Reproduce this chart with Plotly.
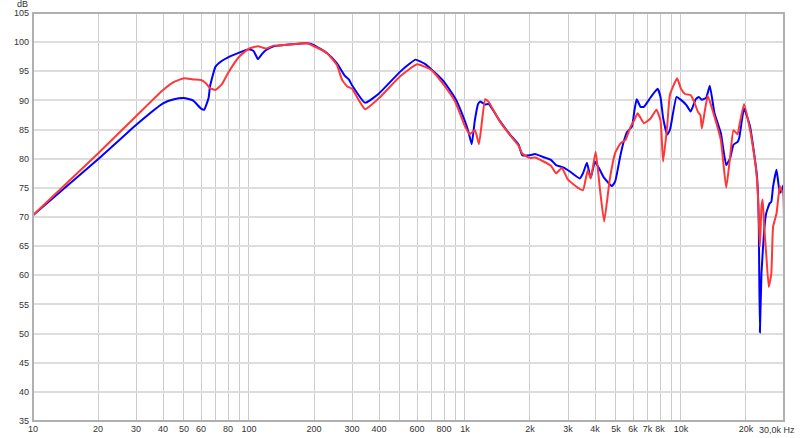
import plotly.graph_objects as go

# ---- data ----
blue_freq = [10, 20, 30, 40, 45, 50, 55, 60, 62, 65, 66, 70, 75, 80, 90, 100, 105, 110, 115, 120,
             130, 145, 185, 200, 230, 255, 278, 290, 300, 345, 400, 500, 550, 590, 650, 700,
             800, 900, 1000, 1040, 1075, 1110, 1150, 1180, 1240, 1285, 1450, 1620, 1773, 1840,
             2000, 2110, 2300, 2500, 2640, 2850, 3060, 3400, 3520, 3670, 3820, 4000, 4210, 4410,
             4790, 4960, 5240, 5430, 5630, 5930, 6080, 6240, 6500, 6740, 7230, 7800, 8040, 8270,
             8630, 8900, 9540, 10000, 10600, 11100, 11700, 12100, 12500, 13100, 13600, 14300,
             15300, 16200, 16900, 17500, 18300, 18600, 19600, 20900, 21700, 22500, 22900, 23200,
             23600, 24300, 24800, 25700, 26200, 26700, 27700, 28700, 29300, 29800, 30000]
blue_db = [70.3, 79.9, 85.8, 89.5, 90.2, 90.4, 90.0, 88.6, 88.4, 90.4, 92.4, 95.8, 96.8, 97.4, 98.2, 98.8, 98.5, 97.1, 98.0, 98.65,
           99.3, 99.5, 99.8, 99.5, 98.1, 96.4, 94.2, 93.6, 92.6, 89.6, 91.2, 94.9, 96.2, 97.0, 96.3, 95.3,
           93.2, 90.4, 86.4, 84.5, 82.5, 86.5, 89.4, 89.8, 89.3, 89.4, 86.5, 84.1, 82.4, 80.6,
           80.6, 80.8, 80.3, 79.8, 78.9, 78.5, 77.8, 76.6, 77.5, 79.3, 76.7, 79.5, 78.1, 76.7,
           75.3, 76.1, 80.5, 82.9, 84.6, 85.5, 88.1, 90.2, 88.9, 88.9, 90.5, 92.0, 90.6, 87.0,
           84.1, 85.0, 90.6, 90.1, 89.2, 88.1, 90.2, 90.6, 90.1, 90.5, 92.5, 87.8,
           84.4, 78.9, 80.1, 82.4, 82.9, 83.5, 88.6, 85.5, 81.5, 76.9, 70.0, 50.2,
           60.4, 67.8, 70.6, 72.3, 72.6, 75.2, 78.1, 74.1, 74.6, 75.5, 70.0]

red_freq = [10, 20, 30, 40, 45, 50, 55, 60, 63, 66, 70, 75, 80, 90, 100, 110, 120, 130, 145, 185,
            200, 230, 255, 270, 285, 300, 345, 400, 500, 600, 700, 800, 900, 1000, 1050, 1113,
            1161, 1240, 1285, 1450, 1620, 1773, 1840, 2000, 2110, 2500, 2640, 2810, 3000, 3340,
            3520, 3700, 3820, 4030, 4210, 4410, 4680, 4960, 5240, 5530, 5850, 6080, 6300, 6740,
            7230, 7700, 8040, 8270, 8630, 8900, 9600, 10000, 10440, 11100, 11500, 12000, 12300,
            12500, 13300, 14300, 15300, 16200, 16900, 17500, 18300, 18600, 19600, 20900, 21700,
            22300, 22700, 23200, 23600, 23900, 24300, 24800, 25500, 26200, 26700, 27700, 28700,
            29300, 29800, 30000]
red_db = [70.3, 80.9, 87.3, 91.8, 93.2, 93.8, 93.6, 93.5, 93.0, 92.1, 91.8, 92.8, 94.7, 97.5, 98.9, 99.3, 98.9, 99.4, 99.5, 99.8,
          99.3, 98.1, 96.1, 93.5, 92.4, 92.0, 88.5, 90.4, 94.1, 96.2, 95.2, 92.6, 89.8, 85.6, 84.2, 84.9,
          82.5, 90.2, 89.8, 86.4, 84.0, 82.2, 80.9, 80.1, 80.2, 78.8, 77.5, 78.4, 76.4, 75.0,
          74.6, 78.0, 76.6, 81.2, 75.0, 69.2, 76.4, 81.0, 82.6, 83.2, 85.5, 86.6, 87.8, 86.1,
          86.9, 88.4, 86.6, 79.5, 85.5, 91.0, 93.8, 92.0, 91.1, 90.9, 89.8, 88.0, 87.5,
          85.2, 90.8, 87.2, 83.2, 75.0, 80.4, 84.9, 84.2, 85.5, 89.4, 84.9, 81.2,
          78.0, 74.0, 64.9, 71.8, 73.0, 68.3, 63.8, 58.0, 60.3, 68.3, 70.6, 75.3,
          74.5, 74.1, 66.1]

x_grid = [10, 20, 30, 40, 50, 60, 70, 80, 90, 100, 200, 300, 400, 500, 600, 700, 800, 900,
          1000, 2000, 3000, 4000, 5000, 6000, 7000, 8000, 9000, 10000, 20000, 30000]
x_labels = ["10", "20", "30", "40", "50", "60", "", "80", "", "100", "200", "300", "400", "", "600", "", "800", "",
            "1k", "2k", "3k", "4k", "5k", "6k", "7k", "8k", "", "10k", "20k", ""]
last_label = "30,0k Hz"
y_ticks = [35, 40, 45, 50, 55, 60, 65, 70, 75, 80, 85, 90, 95, 100, 105]

fig = go.Figure()
fig.add_trace(go.Scatter(x=blue_freq, y=blue_db, mode="lines",
                         line=dict(color="rgb(0,0,255)", width=2, shape="spline", smoothing=0.4),
                         showlegend=False))
fig.add_trace(go.Scatter(x=red_freq, y=red_db, mode="lines",
                         line=dict(color="rgb(255,55,55)", width=2, shape="spline", smoothing=0.4),
                         showlegend=False))

font = dict(family="Liberation Sans, Arial, sans-serif", size=9, color="#333333")
fig.update_layout(
    width=800, height=438,
    margin=dict(l=33, r=16, t=13, b=17, autoexpand=False),
    paper_bgcolor="white", plot_bgcolor="white",
    font=font,
    xaxis=dict(type="log", range=[1, 4.47712], tickvals=x_grid, ticktext=x_labels,
               tickangle=0, showgrid=True, gridcolor="#cccccc", gridwidth=1, zeroline=False,
               ticks="", showline=False, automargin=False, tickfont=font, ticklabelstandoff=1),
    yaxis=dict(range=[35, 105], tickvals=y_ticks, showgrid=True, gridcolor="#dddddd",
               gridwidth=2, zeroline=False, ticks="", showline=False, automargin=False,
               tickfont=font, ticklabelstandoff=3),
    shapes=[dict(type="rect", xref="paper", yref="paper", x0=0, y0=0, x1=1, y1=1,
                 line=dict(color="#b0b0b0", width=2))],
    annotations=[
        dict(text="dB", xref="paper", yref="paper", x=-0.014, y=1.021, showarrow=False,
             xanchor="center", yanchor="middle",
             font=dict(family=font["family"], size=9, color="#333333")),
        dict(text=last_label, xref="paper", yref="paper", x=1.0173, y=-0.022, showarrow=False,
             xanchor="right", yanchor="middle", font=font),
    ],
)
fig.write_html("out.html", config={"displayModeBar": False},
               post_script="document.body.style.margin='0px';document.body.style.overflow='hidden';")
